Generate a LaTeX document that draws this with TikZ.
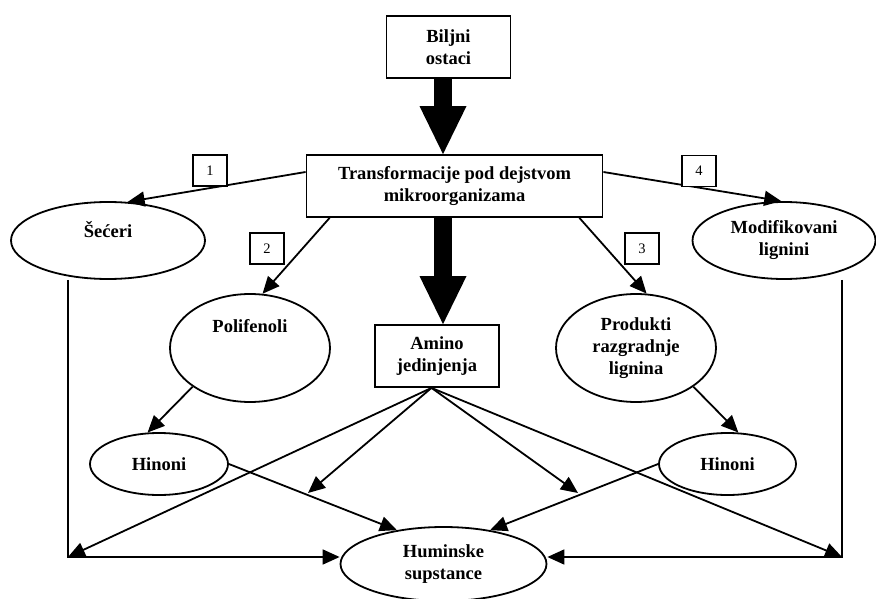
\documentclass[tikz,border=0pt]{standalone}
\usepackage{fontspec}
\setmainfont{Liberation Serif}
\usetikzlibrary{arrows.meta, shapes.geometric}

\begin{document}
\begin{tikzpicture}[x=1pt, y=-1pt, line width=1.8pt,
    >={Triangle[length=17pt, width=15pt]},
    every node/.style={font=\bfseries\fontsize{18.5}{22}\selectfont, align=center, inner sep=0pt},
    box/.style={draw, rectangle},
    oval/.style={draw, ellipse},
    numbox/.style={draw, fill=white, rectangle, minimum width=34pt, minimum height=31pt, font=\fontsize{14.5}{17}\selectfont},
    fatarrow/.style={line width=18pt, -{Triangle[length=48pt, width=47pt, line width=0pt]}}]
    \useasboundingbox (0,0) rectangle (876,599);

    % boxes
    \node[box, minimum width=124pt, minimum height=62pt] (bilj) at (448.5,47) {Biljni\\ostaci};
    \node[box, minimum width=296pt, minimum height=62pt] (trans) at (454.5,186) {Transformacije pod dejstvom\\mikroorganizama};
    \node[box, minimum width=124pt, minimum height=62pt] (amino) at (437,356) {Amino\\jedinjenja};

    % ellipses
    \node[oval, minimum width=194pt, minimum height=77pt] (sec) at (108,240.5) {Šećeri\\~};
    \node[oval, minimum width=160pt, minimum height=108pt] (poli) at (250,348) {Polifenoli\\~\\~};
    \node[oval, minimum width=160pt, minimum height=108pt] (prod) at (636,348) {Produkti\\razgradnje\\lignina};
    \node[oval, minimum width=183pt, minimum height=77pt] (modi) at (784,240.5) {Modifikovani\\lignini};
    \node[oval, minimum width=138pt, minimum height=62pt] (hin1) at (159,464) {Hinoni};
    \node[oval, minimum width=137pt, minimum height=62pt] (hin2) at (727.5,464) {Hinoni};
    \node[oval, minimum width=206pt, minimum height=74pt] (hum) at (443.5,564) {Huminske\\supstance};

    % fat arrows
    \coordinate (f1) at ([xshift=-5.5pt]bilj.south);
    \draw[fatarrow] (f1) -- (f1 |- trans.north);
    \draw[fatarrow] (f1 |- trans.south) -- (f1 |- amino.north);

    \coordinate (am) at ([xshift=-5.5pt]amino.south);
    \coordinate (cl) at (68,557);
    \coordinate (cr) at (842,557);
    \coordinate (a1) at (308,493);
    \coordinate (a2) at (578,493);

    % thin arrows
    \draw[->] ([yshift=14pt]trans.west) -- (sec.63);
    \draw[->] ([xshift=24pt]trans.south west) -- (poli.77);
    \draw[->] ([xshift=-24pt]trans.south east) -- (prod.79);
    \draw[->] ([yshift=14pt]trans.east) -- (modi.94);
    \draw[->] (poli.214) -- (hin1.110);
    \draw[->] (prod.326) -- (hin2.71);
    \draw[->] (hin1.east) -- (hum.144);
    \draw[->] (hin2.west) -- (hum.36);
    \draw[->] (am) -- (a1);
    \draw[->] (am) -- (a2);
    \draw[->] (am) -- (cl);
    \draw[->] (am) -- (cr);
    \draw[->] (cl |- sec.south) -- (cl) -- (cl -| hum.west);
    \draw[->] (cr |- modi.south) -- (cr) -- (cr -| hum.east);

    % numbers
    \node[numbox] (n1) at (210,170.5) {1};
    \node[numbox] (n2) at (267,248.5) {2};
    \node[numbox] (n3) at (642,248.5) {3};
    \node[numbox] (n4) at (699,171) {4};
\end{tikzpicture}
\end{document}
